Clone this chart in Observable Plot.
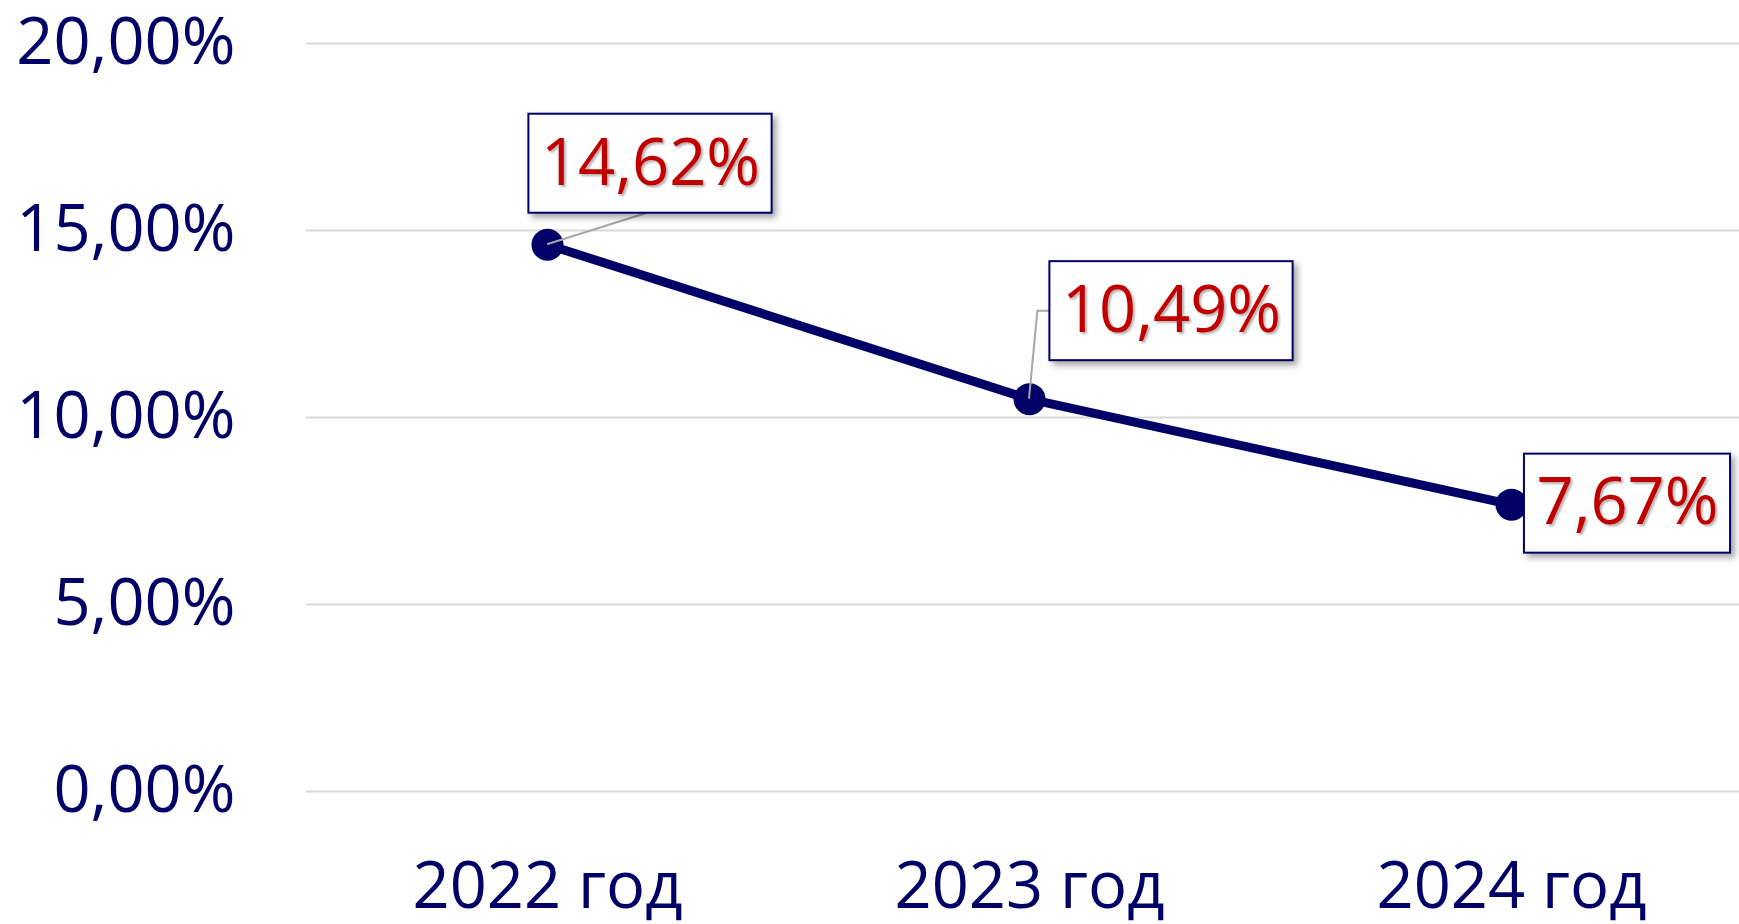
<!DOCTYPE html>
<html>
<head>
<meta charset="utf-8">
<script src="https://cdn.jsdelivr.net/npm/d3@7"></script>
<script src="https://cdn.jsdelivr.net/npm/@observablehq/plot@0.6"></script>
<style>
  html, body { margin: 0; padding: 0; background: #ffffff; }
  #chart { width: 1739px; height: 924px; overflow: hidden; }
</style>
</head>
<body>
<div id="chart"></div>
<script>
// ---- data ----
const years = ["2022 год", "2023 год", "2024 год"];
const values = [14.62, 10.49, 7.67];
const yTicks = [0, 5, 10, 15, 20];

// ---- layout / style (not data) ----
const NAVY = "#000066";
const RED = "#C00000";
const FONT = "'Open Sans', Lato, sans-serif";
const FS = 65;
// label box offsets from their point (px) and leader style
const labelOffsets = [[103, -81], [142, -88], [116, -1]];
const leaderKinds = ["bottom", "left", "none"];

const data = years.map((year, i) => ({year, value: values[i], i}));
const fmt = d => d.toFixed(2).replace(".", ",") + "%";

const labelMarks = data.map((d, i) =>
  Plot.text([d], {
    x: "year", y: "value", text: r => fmt(r.value),
    dx: labelOffsets[i][0], dy: labelOffsets[i][1],
    fill: RED, fontSize: FS, textAnchor: "middle", lineAnchor: "middle",
    ariaLabel: () => "data-label"
  })
);

const plot = Plot.plot({
  width: 1739, height: 924,
  marginLeft: 306, marginRight: 0, marginTop: 43, marginBottom: 133,
  style: {fontFamily: FONT, background: "white", overflow: "visible"},
  x: {type: "point", domain: years, range: [547, 1511], padding: 0, label: null},
  y: {domain: [0, 20], label: null},
  marks: [
    Plot.ruleY(yTicks, {stroke: "#d9d9d9", strokeWidth: 2}),
    Plot.axisY(yTicks, {tickSize: 0, tickPadding: 71, fontSize: FS, fill: NAVY, tickFormat: fmt, label: null}),
    Plot.axisX({tickSize: 0, tickPadding: 70, fontSize: FS, fill: NAVY, label: null}),
    Plot.line(data, {x: "year", y: "value", stroke: NAVY, strokeWidth: 9}),
    Plot.dot(data, {x: "year", y: "value", r: 16, fill: NAVY, stroke: "none"}),
    ...labelMarks
  ]
});

document.getElementById("chart").append(plot);

// ---- annotations: label boxes and leader lines, positioned by the plot's scales ----
const svg = d3.select(plot);
const defs = svg.insert("defs", ":first-child");
defs.append("filter").attr("id", "boxShadow").attr("x", "-20%").attr("y", "-20%").attr("width", "140%").attr("height", "150%")
  .append("feDropShadow").attr("dx", 4).attr("dy", 4).attr("stdDeviation", 3)
  .attr("flood-color", "#000").attr("flood-opacity", 0.35);
defs.append("filter").attr("id", "textShadow").attr("x", "-10%").attr("y", "-10%").attr("width", "130%").attr("height", "130%")
  .append("feDropShadow").attr("dx", 2).attr("dy", 2).attr("stdDeviation", 1.2)
  .attr("flood-color", "#000").attr("flood-opacity", 0.3);

const xs = plot.scale("x"), ys = plot.scale("y");
const labelTexts = Array.from(plot.querySelectorAll("text")).filter(t =>
  t.getAttribute("aria-label") === "data-label" || years.some((y, i) => t.textContent === fmt(values[i])));
const firstGroup = labelTexts.length ? labelTexts[0].closest("g") : null;
const annot = svg.insert("g", () => firstGroup).attr("class", "annotations");

labelTexts.forEach((t) => {
  const i = values.findIndex(v => fmt(v) === t.textContent);
  if (i < 0) return;
  t.setAttribute("filter", "url(#textShadow)");
  const bb = t.getBBox();
  const px = xs.apply(years[i]), py = ys.apply(values[i]);
  const cx = px + labelOffsets[i][0], cy = py + labelOffsets[i][1];
  const w = bb.width + 24, h = 99;
  const left = cx - w / 2, top = cy - h / 2;
  if (leaderKinds[i] === "bottom") {
    annot.append("line").attr("x1", px).attr("y1", py).attr("x2", cx - 3).attr("y2", top + h)
      .attr("stroke", "#a6a6a6").attr("stroke-width", 2);
  } else if (leaderKinds[i] === "left") {
    annot.append("polyline")
      .attr("points", `${px},${py} ${left - 12},${cy} ${left},${cy}`)
      .attr("fill", "none").attr("stroke", "#a6a6a6").attr("stroke-width", 2);
  }
  annot.append("rect").attr("x", left).attr("y", top).attr("width", w).attr("height", h)
    .attr("fill", "white").attr("stroke", NAVY).attr("stroke-width", 2)
    .attr("filter", "url(#boxShadow)");
});
</script>
</body>
</html>
